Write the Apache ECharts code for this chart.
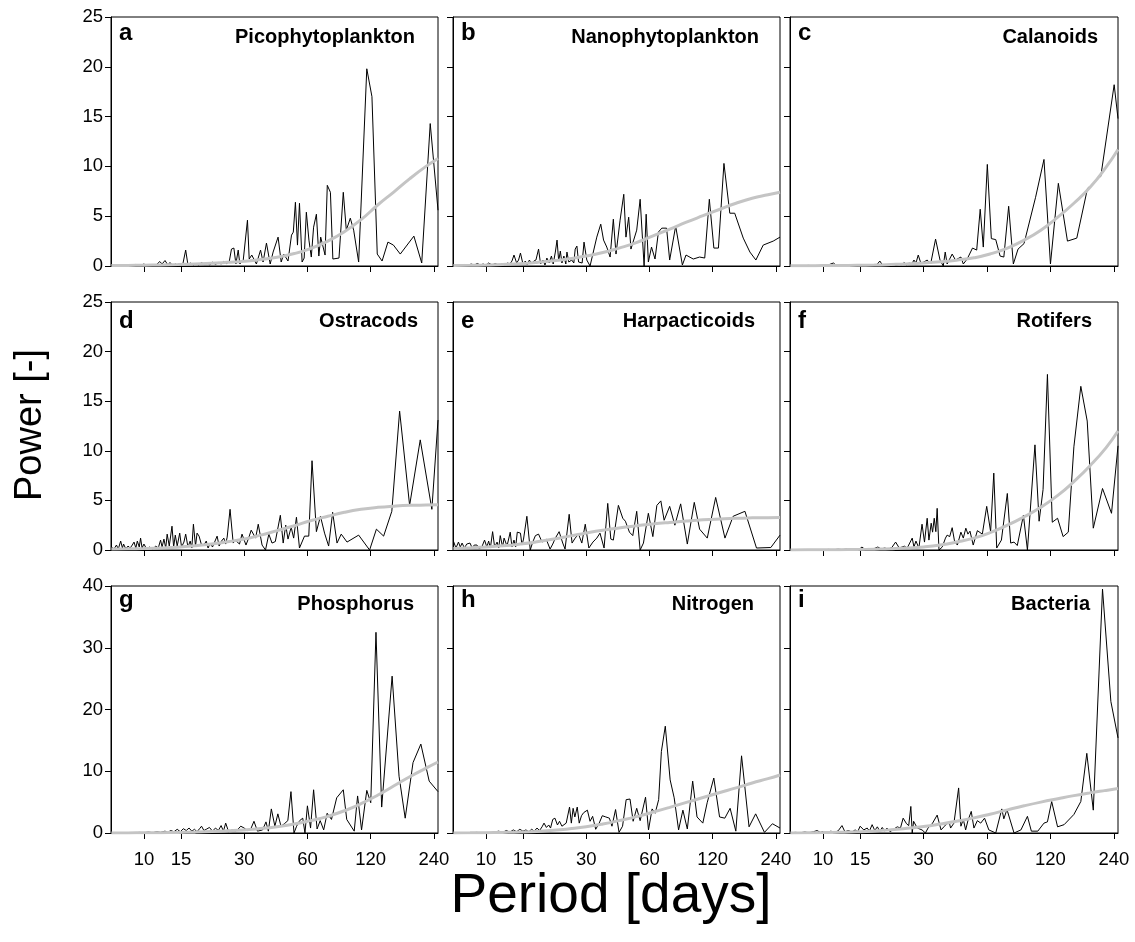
<!DOCTYPE html>
<html><head><meta charset="utf-8">
<script src="https://cdn.jsdelivr.net/npm/echarts@6/dist/echarts.min.js"></script>
<style>html,body{margin:0;padding:0;background:#fff}#c{width:1135px;height:942px}</style>
</head><body><div id="c"></div>
<script>
// ---------- data ----------
const periodTicks = [10, 15, 30, 60, 120, 240];
const periodMin = 6.97, periodMax = 251;
const yMaxRows = [25, 25, 40];
const yStepRows = [5, 5, 10];
const panelLetters = ['a','b','c','d','e','f','g','h','i'];
const panelNames = ['Picophytoplankton','Nanophytoplankton','Calanoids','Ostracods','Harpacticoids','Rotifers','Phosphorus','Nitrogen','Bacteria'];
const xTitle = 'Period [days]';
const yTitle = 'Power [-]';

const picoPower = [[7.0,0.05],[7.3,0.1],[7.6,0.02],[7.9,0.12],[8.2,0.04],[8.5,0.1],[8.8,0.03],[9.1,0.15],[9.4,0.05],[9.7,0.08],[10.0,0.2],[10.3,0.05],[10.7,0.1],[11.1,0.04],[11.5,0.15],[11.9,0.45],[12.2,0.2],[12.6,0.55],[13.0,0.1],[13.3,0.35],[13.7,0.05],[14.1,0.2],[14.5,0.1],[14.9,0.08],[15.3,0.15],[15.8,1.6],[16.2,0.1],[16.7,0.3],[17.2,0.08],[17.7,0.25],[18.2,0.1],[18.8,0.35],[19.4,0.15],[20.0,0.3],[20.6,0.1],[21.2,0.4],[21.9,0.15],[22.6,0.35],[23.3,0.2],[24.0,0.45],[24.8,0.25],[25.5,0.5],
[26.1,1.7],[26.8,1.8],[27.4,0.2],[28.1,1.6],[28.6,0.2],[29.7,0.6],[31.1,4.6],[31.7,0.7],[32.6,1.1],[34.3,0.2],[35.9,1.6],[36.9,0.4],[38.3,2.3],[39.9,0.2],[41.2,1.4],[43.5,2.9],[45.0,0.4],[46.3,1.2],[48.5,0.5],[50.4,3.1],[51.4,3.4],[52.6,6.4],[53.8,2.1],[55.0,6.3],[56.6,0.4],[57.9,0.8],[59.3,5.4],[61.0,2.6],[62.6,0.9],[64.2,3.9],[66.2,5.2],[68.0,1.0],[69.4,2.9],[70.9,2.9],[72.8,1.1],[74.6,8.1],[77.2,7.4],[79.3,0.7],[84.8,0.8],[88.9,7.4],[91.9,3.6],[96.0,4.8],[99.6,3.6],[105.2,0.4],[115,19.8],[121.7,17.0],[129,1.2],[136,0.5],[145,2.4],[154,2.1],[166,1.2],[192.7,3.0],[210,0.3],[230.5,14.3],[251,5.6]];
const picoTrend = [[7,0.05],[8.4,0.06],[10,0.08],[12,0.1],[14.5,0.14],[17.5,0.2],[21,0.27],[25,0.37],[30,0.48],[36,0.65],[43,0.88],[52,1.25],[62,1.75],[75,2.5],[90,3.45],[108,4.65],[130,6.15],[155,7.45],[185,8.8],[220,10.0],[251,10.8]];

const nanoPower = [[7.0,0.05],[7.3,0.1],[7.6,0.05],[7.9,0.15],[8.2,0.05],[8.5,0.2],[8.8,0.1],[9.1,0.25],[9.4,0.1],[9.7,0.2],[10.0,0.05],[10.3,0.3],[10.7,0.1],[11.1,0.25],[11.5,0.05],[11.9,0.2],[12.3,0.1],[12.7,0.3],[13.0,0.2],[13.3,0.5],[13.6,1.1],[14.0,0.3],[14.3,0.6],[14.6,1.3],[15.0,0.2],[15.4,0.5],[15.7,0.1],[16.1,0.6],[16.5,0.2],[16.9,0.5],[17.3,0.6],[17.8,1.7],[18.2,0.2],[18.7,0.6],[19.1,0.1],[19.5,0.8],[20.0,0.3],[20.5,1.0],[20.9,0.2],[21.4,1.4],[21.8,2.6],[22.2,0.5],[22.6,1.5],[23.0,0.3],[23.5,1.0],[24.0,0.2],[24.3,1.4],[24.8,0.4],[25.6,0.6],[26.2,0.3],[26.6,1.7],[27.1,2.0],[27.6,0.4],[28.1,0.5],[28.7,0.3],[29.3,2.4],[30.2,0.6],
[31.3,0],[33.7,2.9],[35.2,4.2],[36.3,2.6],[37.6,1.9],[39.0,0.9],[40.4,4.7],[41.6,1.2],[43.5,4.6],[45.3,7.2],[46.4,2.9],[47.8,4.9],[49.0,1.7],[52.2,3.6],[54.2,6.7],[56.6,0],[57.9,5.2],[59.3,0.4],[61.4,1.9],[63.8,0.7],[66.2,3.4],[68.7,3.8],[72.4,3.8],[74.9,0.6],[80,4.0],[86.1,0.1],[89.6,1.1],[97,0.7],[104,0.9],[110,0.8],[115.7,6.7],[121.6,1.8],[127.8,1.8],[135.8,10.3],[144.8,5.3],[152.8,5.3],[167.8,2.8],[180.5,1.4],[192.7,0.6],[208.8,2.1],[233,2.5],[251,2.9]];
const nanoTrend = [[7,0.05],[8.4,0.07],[10,0.1],[12,0.15],[14.5,0.23],[17.5,0.36],[21,0.53],[25,0.74],[30,1.0],[36,1.35],[43,1.8],[52,2.35],[62,3.0],[75,3.7],[90,4.4],[108,5.05],[130,5.7],[155,6.3],[185,6.8],[220,7.15],[251,7.4]];

const calPower = [[7.0,0.02],[7.5,0.05],[8.0,0.02],[8.5,0.06],[9.0,0.03],[9.5,0.05],[10.0,0.02],[10.5,0.08],[11.2,0.3],[11.6,0.03],[12.2,0.06],[12.8,0.03],[13.4,0.08],[14.0,0.05],[14.6,0.1],[15.2,0.04],[15.8,0.12],[16.5,0.05],[17.2,0.1],[17.9,0.06],[18.6,0.5],[19.2,0.05],[19.9,0.15],[20.6,0.08],[21.4,0.2],[22.2,0.1],[23.0,0.15],[23.6,0.1],[24.2,0.35],[24.9,0.1],[25.6,0.3],[26.3,0.15],[27.0,0.6],[27.6,0.3],[28.3,1.1],[29.1,0.3],
[30.1,0.4],[31.2,0.6],[32.4,0.2],[34.2,2.7],[35.9,0.6],[37.2,0],[38.0,1.4],[38.8,0.2],[41.0,1.2],[42.5,0.6],[45.1,0.9],[46.3,0.2],[48.3,0.7],[51.2,1.8],[53.6,1.6],[55.7,5.7],[57.6,1.9],[60.2,10.2],[62.9,2.75],[66.0,2.65],[69.2,1.0],[72.1,0.9],[76.0,6.0],[80,0.2],[84.2,1.7],[89.9,2.25],[102,6.9],[111.8,10.7],[120,0.2],[130.8,8.3],[144.5,2.5],[160,2.8],[179.9,7.8],[208,9.0],[240.7,18.2],[251,14.8]];
const calTrend = [[7,0.02],[8.4,0.03],[10,0.04],[12,0.05],[14.5,0.07],[17.5,0.1],[21,0.15],[25,0.21],[30,0.3],[36,0.42],[43,0.58],[52,0.82],[62,1.2],[75,1.8],[90,2.6],[108,3.6],[130,4.9],[155,6.3],[185,7.9],[220,9.9],[251,11.7]];

const ostPower = [[7.0,0.3],[7.2,0.1],[7.4,0.5],[7.55,0.1],[7.75,0.9],[7.9,0.2],[8.0,0.6],[8.2,0.1],[8.4,0.4],[8.6,0.2],[8.8,0.5],[8.97,0.8],[9.15,0.2],[9.3,0.9],[9.5,0.3],[9.64,1.2],[9.8,0.2],[10.0,0.6],[10.3,0.1],[10.6,0.3],[11.0,0.1],[11.4,0.4],[11.7,0.2],[12.0,1.0],[12.2,0.3],[12.45,1.1],[12.7,0.2],[12.9,1.6],[13.2,0.4],[13.6,2.4],[13.85,0.3],[14.1,1.5],[14.4,0.4],[14.8,1.7],[15.1,0.3],[15.5,0.8],[15.8,1.6],[16.2,0.3],[16.6,0.9],[16.9,0.2],[17.2,2.6],[17.6,0.4],[17.9,1.7],[18.3,1.4],[18.8,0.5],[19.3,0.5],[19.8,0.9],[20.2,0.2],[20.7,0.7],[21.2,0.3],[21.7,0.8],[22.3,1.4],[22.8,0.4],[23.4,0.9],[24.0,1.2],[24.5,0.6],[24.9,1.3],[25.7,4.1],[26.6,0.7],[27.2,1.0],[27.8,0.9],[28.5,0.6],[29.3,1.6],[30.6,0.5],[31.5,1.2],[32.4,2.0],[34.0,1.2],[35.0,2.6],[36.5,0.5],[37.9,0],[39.3,1.6],[40.7,0.7],[42.2,0.85],[44.6,3.5],[46.0,0.7],[47.3,2.5],[48.5,1.1],[50.2,2.3],[51.6,1.2],[53.2,3.3],[55.0,0.2],[58.1,1.4],[60.9,1.4],[63.1,9.0],[66.2,1.85],[69.2,3.4],[72.4,1.7],[75.7,0.4],[79.1,3.8],[83.0,0.7],[86.9,1.6],[92.6,0.8],[105.2,1.5],[118.6,0],[127.8,2.1],[138.3,1.4],[151.3,3.9],[164.8,14.0],[183.9,4.5],[206.6,11.1],[234.7,4.1],[251,13.1]];
const ostTrend = [[7,0.1],[8.4,0.12],[10,0.15],[12,0.2],[14.5,0.28],[17.5,0.42],[21,0.6],[25,0.83],[30,1.1],[36,1.5],[43,1.95],[52,2.45],[62,2.95],[75,3.4],[90,3.8],[108,4.1],[130,4.3],[155,4.42],[185,4.5],[220,4.53],[251,4.55]];

const harpPower = [[7.0,0.9],[7.2,0.2],[7.4,0.8],[7.55,0.3],[7.7,0.7],[7.9,0.2],[8.1,0.6],[8.4,0.7],[8.6,0.2],[8.8,0.5],[9.06,0.5],[9.3,0.1],[9.6,0.4],[9.85,1.0],[10.1,0.3],[10.3,0.9],[10.5,0.2],[10.76,1.85],[11.0,0.3],[11.3,0.8],[11.5,0.2],[11.7,1.45],[12.0,0.3],[12.2,1.2],[12.6,0.4],[13.05,1.8],[13.3,0.3],[13.6,1.0],[13.85,0.3],[14.1,1.8],[14.6,1.7],[14.85,0.5],[15.1,1.1],[15.66,3.4],[16.25,0],[16.7,0.8],[17.2,1.45],[17.8,1.6],[18.5,0.8],[19.35,1.1],[20.2,0.1],[20.8,0.6],[21.4,1.2],[22.3,1.85],[23.2,0.7],[23.8,0.1],[24.9,3.6],[25.7,0.7],[26.6,1.2],[27.6,1.6],[28.6,0.7],[29.7,2.6],[30.9,0.2],[32.3,0.8],[33.7,1.2],[34.9,1.7],[36.5,0.2],[38.0,4.7],[39.3,1.1],[40.4,1.0],[42.7,4.5],[44.8,3.2],[46.1,2.9],[48.2,1.8],[50.0,1.45],[52.2,3.9],[54.2,0],[56.2,0.7],[59.3,3.7],[62.3,1.35],[65.1,4.5],[68.0,4.95],[70.5,3.0],[74.9,4.4],[79.3,2.5],[84.5,4.65],[90.9,0.6],[98.1,4.8],[104,2.1],[113.1,1.2],[124,5.3],[137.3,1.2],[150.2,3.4],[170.9,3.9],[194,0.2],[227,0.25],[251,1.5]];
const harpTrend = [[7,0.15],[8.4,0.22],[10,0.3],[12,0.42],[14.5,0.6],[17.5,0.83],[21,1.1],[25,1.4],[30,1.72],[36,2.0],[43,2.22],[52,2.45],[62,2.62],[75,2.78],[90,2.92],[108,3.04],[130,3.13],[155,3.2],[185,3.24],[220,3.26],[251,3.27]];

const rotPower = [[7.0,0.01],[7.5,0.03],[8.0,0.01],[8.5,0.04],[9.0,0.02],[9.5,0.05],[10.0,0.02],[10.6,0.06],[11.2,0.03],[11.8,0.08],[12.4,0.04],[13.0,0.1],[13.6,0.05],[14.2,0.12],[14.8,0.05],[15.3,0.3],[15.8,0.06],[16.5,0.15],[17.2,0.08],[18.2,0.3],[18.9,0.1],[19.6,0.2],[20.4,0.1],[21.2,0.25],[22.1,0.8],[23.0,0.2],[23.7,0.3],[24.4,0.4],[25.0,0.15],[25.5,0.5],[26.5,1.2],[27.0,0.3],[27.6,0.9],[28.5,0.2],
[29.5,2.6],[30.3,0.8],[31.2,3.2],[31.8,1.0],[32.6,2.7],[33.1,1.8],[33.7,3.2],[34.3,1.85],[34.8,4.2],[35.5,0],[36.8,0.3],[38.1,1.2],[38.8,1.5],[39.9,1.35],[41.0,2.25],[42.1,0.85],[43.4,0.5],[45.1,1.8],[46.3,1.2],[47.6,2.2],[48.7,1.6],[49.8,1.9],[51.6,0.5],[54.0,1.95],[57.0,1.6],[59.8,4.4],[62.4,1.85],[64.6,7.75],[66.7,0.2],[70.2,1.0],[74.9,5.7],[77.7,0.7],[80.6,0.8],[83.5,0.45],[89.3,3.5],[93.3,0],[101.3,10.6],[106,2.9],[110.7,6.1],[116.1,17.7],[122.4,2.8],[129.7,3.2],[137.8,1.35],[145.8,1.8],[155,10.4],[167.2,16.5],[179.3,13.0],[191.6,2.2],[211.9,6.2],[233.8,3.7],[251,10.5]];
const rotTrend = [[7,0.01],[8.4,0.015],[10,0.02],[12,0.03],[14.5,0.05],[17.5,0.08],[21,0.12],[25,0.19],[30,0.3],[36,0.5],[43,0.8],[52,1.2],[62,1.75],[75,2.5],[90,3.35],[108,4.3],[130,5.5],[155,6.9],[185,8.5],[220,10.3],[251,12.0]];

const phosPower = [[7.0,0.02],[7.5,0.05],[8.0,0.02],[8.5,0.08],[9.0,0.03],[9.5,0.1],[10.0,0.05],[10.5,0.15],[11.0,0.05],[11.5,0.2],[12.0,0.1],[12.6,0.3],[13.0,0.1],[13.4,0.4],[13.9,0.2],[14.4,0.6],[14.9,0.2],[15.4,0.7],[15.9,0.4],[16.4,0.8],[16.9,0.3],[17.4,0.6],[17.9,0.2],[18.4,0.7],[18.8,1.1],[19.3,0.4],[19.8,0.6],[20.5,0.9],[21.2,0.3],[21.9,0.8],[22.6,0.4],[23.3,1.2],[23.9,0.3],[24.5,1.6],[25.3,0.2],[26.3,0.5],[27.2,0.3],[28.0,0.6],[28.9,1.1],[30.0,0.8],[31.0,0.4],[32.2,0.6],
[33.4,1.9],[34.7,0.3],[36.7,0.5],[38.1,1.8],[39.1,0.3],[40.4,3.9],[42.0,1.1],[43.4,3.1],[44.9,1.1],[46.6,1.5],[48.4,2.0],[50.1,6.7],[51.8,0],[53.3,1.1],[55.1,2.0],[57.0,2.4],[58.4,0],[60.0,4.4],[62.1,0.8],[64.2,7.0],[66.7,0.65],[69.0,2.0],[71.7,0.5],[74.5,3.2],[78.1,2.2],[82.7,5.7],[88.9,7.0],[92.3,2.2],[100.2,0.3],[104,6.0],[108.6,0.5],[115,6.9],[120.1,4.9],[127.2,32.5],[135.4,4.2],[151.8,25.4],[163.8,9.2],[175.2,2.4],[190.9,11.4],[208,14.4],[227.9,8.4],[251,6.7]];
const phosTrend = [[7,0.01],[8.4,0.02],[10,0.03],[12,0.05],[14.5,0.08],[17.5,0.14],[21,0.23],[25,0.35],[30,0.5],[36,0.72],[43,1.02],[52,1.45],[62,2.0],[75,2.7],[90,3.6],[108,4.75],[130,6.15],[155,7.65],[185,9.15],[220,10.5],[251,11.5]];

const nitPower = [[7.0,0.02],[7.4,0.05],[7.8,0.02],[8.2,0.08],[8.6,0.03],[9.0,0.1],[9.5,0.05],[10.0,0.08],[10.5,0.04],[11.0,0.15],[11.5,0.3],[12.0,0.1],[12.5,0.4],[13.0,0.15],[13.5,0.5],[14.0,0.2],[14.5,0.6],[15.0,0.3],[15.5,0.5],[16.0,0.2],[16.5,0.6],[17.0,0.3],[17.5,0.8],[18.0,0.4],[18.5,1.0],
[18.9,1.6],[19.4,0.9],[19.9,1.3],[20.3,0.8],[20.8,2.2],[21.3,2.4],[21.9,1.3],[22.4,1.9],[23.0,1.1],[23.5,0.8],[24.1,1.6],[25.0,4.2],[25.5,1.6],[26.0,4.0],[26.5,2.6],[27.2,4.2],[27.8,1.6],[28.5,2.8],[29.2,3.3],[30.4,3.7],[31.3,1.9],[32.2,2.7],[33.3,0.6],[34.6,1.6],[35.8,2.8],[37.2,2.6],[38.7,2.4],[39.8,1.1],[41.4,3.8],[43.0,0.1],[44.7,1.1],[46.5,5.4],[48.5,5.5],[50.2,1.9],[52.2,4.0],[54.2,2.0],[57.5,5.8],[59.4,0.5],[61.8,3.9],[63.9,3.2],[66.4,5.4],[68.4,13.2],[71.4,17.3],[75.3,8.6],[78.7,5.7],[82.6,0.5],[86.6,3.7],[90.9,0.65],[96.4,8.4],[101.1,2.6],[107.7,1.6],[113,4.9],[121.5,8.9],[129.4,2.6],[137.1,2.4],[145.3,4.0],[154.7,0.3],[164.7,12.5],[178.8,1.0],[192.2,3.1],[211.7,0.1],[231,1.5],[251,0.8]];
const nitTrend = [[7,0.02],[8.4,0.03],[10,0.05],[12,0.09],[14.5,0.15],[17.5,0.26],[21,0.43],[25,0.68],[30,1.0],[36,1.45],[43,2.0],[52,2.65],[62,3.35],[75,4.15],[90,4.95],[108,5.75],[130,6.55],[155,7.3],[185,8.1],[220,8.8],[251,9.4]];

const bactPower = [[7.0,0.05],[7.4,0.1],[7.8,0.05],[8.2,0.15],[8.6,0.05],[9.0,0.2],[9.37,0.4],[9.7,0.1],[10.1,0.25],[10.5,0.1],[10.9,0.3],[11.3,0.1],[11.8,0.35],[12.3,1.2],[12.7,0.2],[13.2,0.4],[13.7,0.15],[14.2,0.5],[14.6,0.2],[15.0,1.1],[15.6,0.5],[16.2,0.8],[16.6,0.3],[17.1,1.35],[17.6,0.4],[18.1,1.0],[18.6,0.3],[19.1,0.9],[19.6,0.3],[20.1,0.8],[20.8,0.2],[21.6,0.6],[22.5,1.0],[23.3,0.8],[24.0,2.4],[24.9,1.5],[25.5,1.2],[26.1,4.3],[26.5,0],[26.9,1.9],[28.0,0.8],[29.5,0.5],[30.6,0],[31.5,0.8],[33.1,1.6],[34.8,2.9],[36.3,0.5],[37.7,1.1],[39.6,1.9],[40.3,0.8],[41.8,1.6],[44.0,7.3],[45.1,1.1],[46.3,2.2],[47.5,0.5],[48.7,2.0],[50.5,3.5],[52.0,0.8],[54.0,2.0],[56.0,1.6],[58.4,2.4],[61.2,0.5],[66.0,0],[70.5,3.9],[72.1,2.3],[74.6,3.8],[80.6,0],[86.9,0.5],[93.3,2.7],[97.4,0.3],[104.5,0.3],[111.8,1.6],[116.1,1.8],[121.6,5.1],[129.7,1.0],[139.3,1.35],[155,3.0],[167.2,5.1],[178.5,12.9],[191.6,3.7],[211.9,39.5],[232.2,21.3],[251,15.4]];
const bactTrend = [[7,0.02],[8.4,0.04],[10,0.07],[12,0.12],[14.5,0.2],[17.5,0.33],[21,0.52],[25,0.76],[30,1.05],[36,1.45],[43,1.9],[52,2.45],[62,3.05],[75,3.75],[90,4.4],[108,5.0],[130,5.55],[155,6.05],[185,6.5],[220,6.9],[251,7.2]];

const powerSeries = [picoPower, nanoPower, calPower, ostPower, harpPower, rotPower, phosPower, nitPower, bactPower];
const trendSeries = [picoTrend, nanoTrend, calTrend, ostTrend, harpTrend, rotTrend, phosTrend, nitTrend, bactTrend];

// ---------- layout ----------
const colLeft = [111, 453, 790];
const colWidth = [327, 327, 328];
const rowTop = [17, 302, 586];
const rowHeight = [249, 248, 247];
const letterMidY = [33.5, 321, 600];
const nameMidY = [37.5, 321.5, 604];
const nameRightX = [415, 759, 1098, 418, 755, 1092, 414, 754, 1090];
const FONT = "'Liberation Sans', Arial, Helvetica, sans-serif";

const lg = v => Math.log2(v);
const tickPos = periodTicks.map(v => lg(v));

const grids = [], xAxes = [], yAxes = [], series = [], graphics = [];
for (let i = 0; i < 9; i++) {
  const r = Math.floor(i / 3), c = i % 3;
  grids.push({left: colLeft[c], top: rowTop[r], width: colWidth[c], height: rowHeight[r],
    show: true, borderColor: '#000', borderWidth: 1, backgroundColor: 'transparent', containLabel: false});
  xAxes.push({gridIndex: i, type: 'value', min: lg(periodMin), max: lg(periodMax),
    axisLine: {show: true, onZero: false, lineStyle: {color: '#000', width: 1}},
    axisTick: {show: true, inside: false, length: 6, customValues: tickPos, lineStyle: {color: '#000', width: 1}},
    axisLabel: {show: r === 2, customValues: tickPos, margin: 17, color: '#000', fontSize: 18.5, fontFamily: FONT,
      formatter: v => String(Math.round(Math.pow(2, v)))},
    splitLine: {show: false}});
  yAxes.push({gridIndex: i, type: 'value', min: 0, max: yMaxRows[r], interval: yStepRows[r],
    axisLine: {show: true, lineStyle: {color: '#000', width: 1}},
    axisTick: {show: true, inside: false, length: 6, lineStyle: {color: '#000', width: 1}},
    axisLabel: {show: c === 0, margin: 8, color: '#000', fontSize: 18.5, fontFamily: FONT},
    splitLine: {show: false}});
  series.push({type: 'line', xAxisIndex: i, yAxisIndex: i, showSymbol: false, symbol: 'none', z: 2,
    lineStyle: {color: '#000', width: 1}, data: powerSeries[i].map(p => [lg(p[0]), p[1]])});
  series.push({type: 'line', xAxisIndex: i, yAxisIndex: i, showSymbol: false, symbol: 'none', z: 3,
    smooth: 0.5,
    lineStyle: {color: '#c4c4c4', width: 3}, data: trendSeries[i].map(p => [lg(p[0]), p[1]])});
  graphics.push({type: 'text', x: colLeft[c] + 8, y: letterMidY[r], z: 10,
    style: {text: panelLetters[i], font: 'bold 24px ' + FONT, fill: '#000', textAlign: 'left', textVerticalAlign: 'middle'}});
  graphics.push({type: 'text', x: nameRightX[i], y: nameMidY[r], z: 10,
    style: {text: panelNames[i], font: 'bold 20px ' + FONT, fill: '#000', textAlign: 'right', textVerticalAlign: 'middle'}});
}
graphics.push({type: 'text', x: 31, y: 425, rotation: Math.PI / 2, z: 10,
  style: {text: yTitle, font: '38px ' + FONT, fill: '#000', textAlign: 'center', textVerticalAlign: 'middle'}});
graphics.push({type: 'text', x: 611, y: 897, z: 10,
  style: {text: xTitle, font: '55px ' + FONT, fill: '#000', textAlign: 'center', textVerticalAlign: 'middle'}});

const chart = echarts.init(document.getElementById('c'), null, {renderer: 'canvas'});
chart.setOption({animation: false, backgroundColor: '#fff', grid: grids, xAxis: xAxes, yAxis: yAxes, series: series, graphic: graphics});
</script></body></html>
